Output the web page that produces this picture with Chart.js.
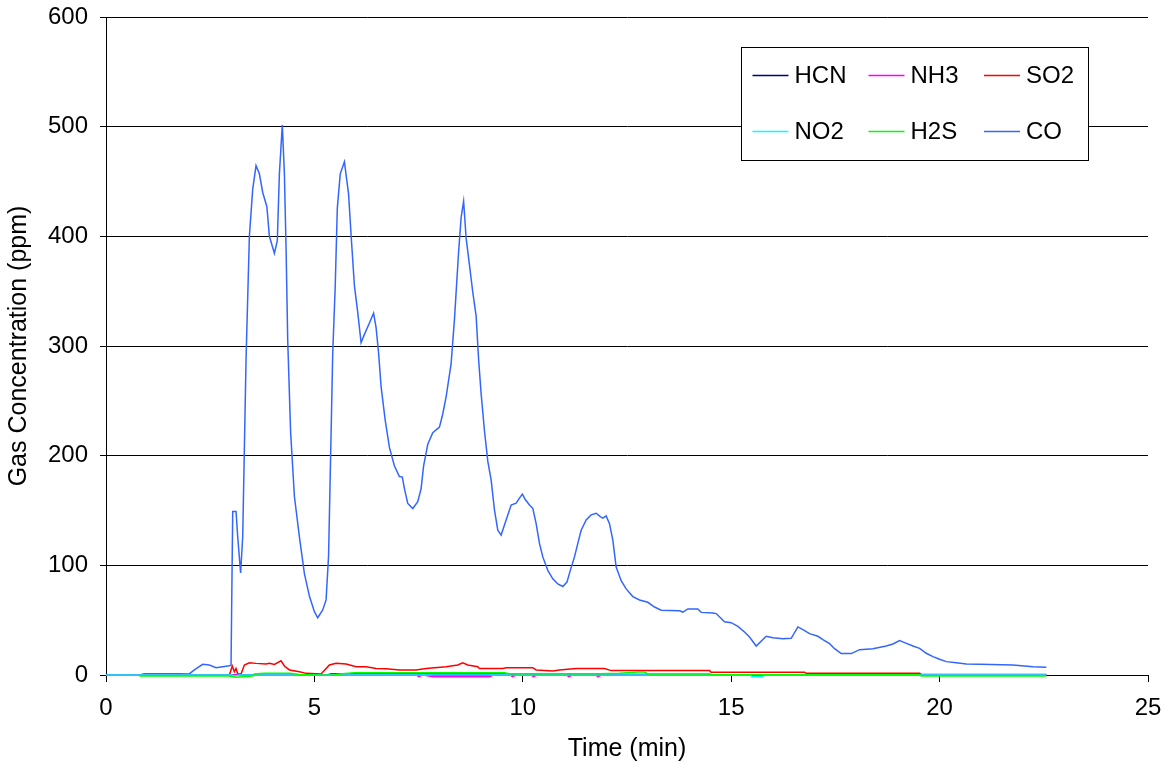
<!DOCTYPE html>
<html>
<head>
<meta charset="utf-8">
<script src="https://cdn.jsdelivr.net/npm/chart.js@4.4.1/dist/chart.umd.min.js"></script>
<style>
  html, body { margin: 0; padding: 0; background: #fff; }
  #wrap { width: 1169px; height: 768px; position: relative; }
</style>
</head>
<body>
<div id="wrap"><canvas id="c"></canvas></div>
<script>
// ---- Data (time in minutes, concentration in ppm) ----
const seriesNames = ['HCN', 'NH3', 'SO2', 'NO2', 'H2S', 'CO'];
const seriesColors = ['#000080', '#FF00FF', '#FF0000', '#00FFFF', '#00FF00', '#3366FF'];
const seriesDrawOrder = [3, 2, 4, 1, 0, 5]; // lower = drawn on top

const xTicks = [0, 5, 10, 15, 20, 25];
const yTicks = [0, 100, 200, 300, 400, 500, 600];

const coTime = [0, 0.80, 0.92, 1.76, 2.00, 2.12, 2.32, 2.48, 2.64, 2.80, 2.96, 3.00, 3.04, 3.12, 3.16, 3.23, 3.28, 3.36, 3.44, 3.52,
  3.60, 3.68, 3.76, 3.86, 3.92, 4.04, 4.11, 4.16, 4.23, 4.28, 4.32, 4.36, 4.43, 4.52, 4.64, 4.76, 4.88, 5.00, 5.08, 5.20,
  5.28, 5.34, 5.39, 5.44, 5.50, 5.55, 5.62, 5.72, 5.82, 5.88, 5.96, 6.04, 6.12, 6.20, 6.32, 6.42, 6.48, 6.54, 6.60, 6.70,
  6.80, 6.92, 7.04, 7.11, 7.16, 7.24, 7.36, 7.48, 7.56, 7.62, 7.72, 7.84, 8.00, 8.08, 8.16, 8.28, 8.36, 8.46, 8.52, 8.58,
  8.64, 8.72, 8.80, 8.88, 8.94, 9.00, 9.08, 9.16, 9.24, 9.32, 9.40, 9.48, 9.60, 9.72, 9.84, 9.92, 9.99, 10.06, 10.16, 10.24,
  10.32, 10.40, 10.48, 10.60, 10.72, 10.84, 10.96, 11.06, 11.14, 11.24, 11.32, 11.40, 11.52, 11.64, 11.76, 11.86, 11.92, 12.00, 12.08, 12.16,
  12.24, 12.36, 12.48, 12.64, 12.80, 13.00, 13.16, 13.32, 13.76, 13.84, 13.96, 14.20, 14.28, 14.56, 14.64, 14.84, 15.00, 15.16, 15.32, 15.44,
  15.60, 15.84, 16.00, 16.24, 16.44, 16.60, 16.72, 16.88, 17.08, 17.20, 17.36, 17.48, 17.64, 17.88, 18.08, 18.40, 18.72, 18.88, 19.04, 19.16,
  19.36, 19.52, 19.68, 19.84, 20.00, 20.16, 20.40, 20.64, 20.96, 21.76, 22.24, 22.56];
const coValues = [0, 0, 1.2, 1.2, 1, 4.6, 9.7, 9.1, 6.7, 7.6, 8.5, 9, 149, 149, 126, 93, 126, 288, 400, 443,
  464.5, 457, 440, 427, 400, 384.5, 396, 457, 501.6, 457, 389.5, 305, 221, 163, 126, 92.5, 72, 57.7, 52.2, 59.3,
  68.5, 108.6, 201, 294, 355, 426, 457, 468, 438.5, 401.5, 355, 330.6, 303, 310.6, 321, 330, 316.7, 293.6, 263, 232,
  207.5, 190.6, 181, 180.5, 170, 156.4, 151.8, 158, 170, 190.6, 210.4, 221, 226, 238, 253.5, 284, 324, 386, 417, 432,
  398.5, 374, 349, 327.5, 287.5, 256.6, 222.7, 195, 178, 150.6, 132, 127.6, 141.4, 155, 156.7, 161.3, 165, 160, 155, 152,
  138, 120, 107.7, 95.4, 87.7, 83, 80.7, 84.7, 95.4, 107.7, 120, 132, 141.4, 146, 147.5, 144.5, 143, 145, 138, 123,
  98.5, 86, 78.5, 71.5, 68.4, 66.3, 62, 59, 58.5, 57.4, 60.2, 60.2, 57.1, 56.5, 56, 48.6, 47.7, 44.4, 39.2, 34.7,
  26.4, 35.3, 34, 33.1, 33.4, 43.8, 41.3, 37.7, 35.3, 32.2, 28.6, 24, 19.5, 19.5, 23.1, 24, 26.4, 28.3, 31.3, 29.5,
  26.4, 24.3, 19.8, 16.7, 14.3, 12.2, 11.2, 10, 9.7, 9.1, 7.6, 7];

const so2Time = [0, 0.80, 2.96, 3.03, 3.08, 3.12, 3.16, 3.24, 3.32, 3.44, 3.60, 3.84, 3.92, 4.04, 4.20, 4.28, 4.40, 4.64, 4.80, 5.16,
  5.36, 5.52, 5.76, 6.00, 6.24, 6.48, 6.72, 7.04, 7.44, 7.68, 8.16, 8.44, 8.56, 8.68, 8.92, 8.96, 9.52, 9.60, 10.24, 10.32,
  10.72, 10.88, 11.28, 11.96, 12.12, 14.48, 14.52, 16.76, 16.80, 19.52, 19.56, 22.56];
const so2Values = [0, 0, 0, 8.2, 3, 6, 1, 1, 9.1, 11.2, 10.6, 10, 10.6, 9.7, 13, 8.2, 4.6, 3, 1.5, 0.9,
  9.1, 10.6, 10, 7.6, 7.6, 6, 5.8, 4.6, 4.6, 6, 7.6, 9.1, 11.2, 9.1, 7.6, 6, 6, 6.7, 6.7, 4.6,
  3.6, 4.6, 6, 6, 4, 4, 2.4, 2.4, 1.5, 1.5, 0.5, 0.5];

const h2sTime = [0.80, 2.96, 3.12, 3.52, 3.56, 3.80, 4.40, 4.64, 5.24, 5.44, 5.60, 5.96, 9.56, 9.68, 11.84, 12.32, 12.76, 12.92, 13.00, 14.48,
  14.52, 19.52, 19.56, 22.56];
const h2sValues = [-1, -1, -2, -1, 1, 1.5, 1.5, 0.5, -0.3, -0.3, 1, 2, 2, 1.2, 1.2, 1.5, 2.7, 2.7, 1, 1,
  0.3, 0.3, -0.9, -0.9];

const hcnTime = [0, 5.30, 5.40, 9.60, 9.70, 14.50, 14.60, 22.56];
const hcnValues = [0, 0, 1, 1, 0.5, 0.5, 0, 0];

const no2Time = [0, 3.00, 3.10, 3.20, 15.45, 15.50, 15.75, 15.80, 22.56];
const no2Values = [0, 0, -1, 0, 0, -1.5, -1.5, 0, 0];

const nh3Time = [0, 7.45, 7.50, 7.60, 7.85, 9.20, 9.30, 9.70, 9.75, 9.85, 10.20, 10.25, 10.35, 11.05, 11.10, 11.20, 11.75, 11.80, 11.90, 22.56];
const nh3Values = [0, 0, -1.5, 0, -1.5, -1.5, 0, 0, -1.5, 0, 0, -1.5, 0, 0, -1.5, 0, 0, -1.5, 0, 0];

const seriesTimes = [hcnTime, nh3Time, so2Time, no2Time, h2sTime, coTime];
const seriesValues = [hcnValues, nh3Values, so2Values, no2Values, h2sValues, coValues];

// ---- Build chart ----
const FONT = 'Liberation Sans, Arial, sans-serif';
const TICK_SIZE = 24;
const TITLE_SIZE = 25;
const LEGEND_SIZE = 24;

const datasets = seriesNames.map((name, k) => ({
  label: name,
  data: seriesTimes[k].map((t, i) => ({ x: t, y: seriesValues[k][i] })),
  borderColor: seriesColors[k],
  backgroundColor: seriesColors[k],
  borderWidth: 1.5,
  pointRadius: 0,
  tension: 0,
  fill: false,
  clip: 6,
  order: seriesDrawOrder[k]
}));

const legendBox = {
  id: 'legendBox',
  afterDraw(chart) {
    const ctx = chart.ctx;
    const left = 741.5, top = 47.5, w = 347, h = 113;
    ctx.save();
    ctx.fillStyle = '#fff';
    ctx.fillRect(left, top, w, h);
    ctx.strokeStyle = '#000';
    ctx.lineWidth = 1;
    ctx.strokeRect(left, top, w, h);
    const cols = [752.5, 868.5, 984];
    const rows = [75.5, 131.5];
    ctx.font = LEGEND_SIZE + 'px ' + FONT;
    ctx.textBaseline = 'middle';
    ctx.textAlign = 'left';
    seriesNames.forEach((name, i) => {
      const cx = cols[i % 3], cy = rows[Math.floor(i / 3)];
      ctx.strokeStyle = seriesColors[i];
      ctx.lineWidth = 1.5;
      ctx.beginPath();
      ctx.moveTo(cx, cy);
      ctx.lineTo(cx + 36, cy);
      ctx.stroke();
      ctx.fillStyle = '#000';
      ctx.fillText(name, cx + 42, cy + 1);
    });
    ctx.restore();
  }
};

new Chart(document.getElementById('c'), {
  type: 'line',
  data: { datasets },
  options: {
    responsive: true,
    maintainAspectRatio: false,
    animation: false,
    layout: { padding: { top: 17, right: 21, left: 0, bottom: 0 } },
    plugins: { legend: { display: false }, tooltip: { enabled: false } },
    scales: {
      x: {
        type: 'linear',
        min: 0, max: 25,
        afterBuildTicks(scale) { scale.ticks = xTicks.map(v => ({ value: v })); },
        afterFit(scale) { scale.height = 93; scale.paddingLeft = 0; scale.paddingRight = 0; },
        grid: { drawOnChartArea: false, drawTicks: true, tickLength: 7, color: '#000', lineWidth: 1 },
        border: { display: true, color: '#000', width: 1 },
        ticks: { color: '#000', font: { family: FONT, size: TICK_SIZE }, padding: 12, maxRotation: 0 },
        title: { display: true, text: 'Time (min)', color: '#000', font: { family: FONT, size: TITLE_SIZE }, padding: { top: 4, bottom: 4 } }
      },
      y: {
        type: 'linear',
        min: 0, max: 600,
        afterBuildTicks(scale) { scale.ticks = yTicks.map(v => ({ value: v })); },
        afterFit(scale) { scale.width = 106; scale.paddingTop = 0; scale.paddingBottom = 0; },
        grid: { drawOnChartArea: true, drawTicks: true, tickLength: 6, color: '#000', lineWidth: 1 },
        border: { display: true, color: '#000', width: 1 },
        ticks: { color: '#000', font: { family: FONT, size: TICK_SIZE }, padding: 12 },
        title: { display: true, text: 'Gas Concentration (ppm)', color: '#000', font: { family: FONT, size: TITLE_SIZE }, padding: { top: 4, bottom: 4 } }
      }
    }
  },
  plugins: [legendBox]
});
</script>
</body>
</html>
